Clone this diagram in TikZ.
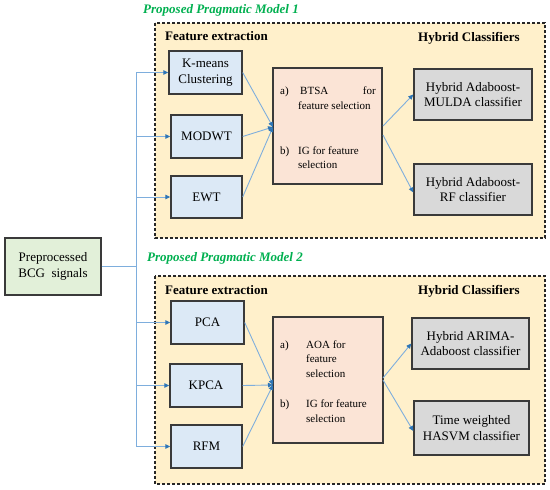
\documentclass[tikz,border=0pt]{standalone}
\usepackage{fontspec}
\setmainfont{Liberation Serif}
\usetikzlibrary{arrows.meta,calc}
\definecolor{panelbg}{HTML}{FFF0CB}
\definecolor{fxblue}{HTML}{DCE9F6}
\definecolor{fspink}{HTML}{FBE4D6}
\definecolor{clgray}{HTML}{D9D9D9}
\definecolor{prgreen}{HTML}{E2F0D9}
\definecolor{ttlgreen}{HTML}{00B050}
\definecolor{connblue}{HTML}{7EAEDD}
\definecolor{tipblue}{HTML}{2E75B6}
\definecolor{edge}{HTML}{3A3A3A}
\tikzset{
  txt/.style={font=\fontsize{13}{15.5}\selectfont},
  boxed/.style={txt, draw=edge, line width=1.4pt, align=center, inner sep=0pt},
  fxbox/.style={boxed, fill=fxblue},
  fsbox/.style={boxed, fill=fspink},
  clbox/.style={boxed, fill=clgray},
  prbox/.style={boxed, fill=prgreen},
  panel/.style={draw=black!85, line width=1.1pt, dash pattern=on 3pt off 2pt, fill=panelbg},
  head/.style={font=\fontsize{13}{15.5}\selectfont\bfseries, anchor=west, inner sep=0pt},
  ttl/.style={font=\fontsize{13}{15.5}\selectfont\bfseries\itshape, text=ttlgreen, anchor=west, inner sep=0pt},
  lbl/.style={font=\fontsize{11}{13.5}\selectfont, anchor=base west, inner sep=0pt},
  wire/.style={draw=connblue, line width=0.9pt},
  arr/.style={wire, -{Triangle[length=5pt,width=4.5pt,color=tipblue]}},
}
\begin{document}
\begin{tikzpicture}[x=1pt,y=-1pt]
\useasboundingbox (0,0) rectangle (550,490);
\fill[white] (0,0) rectangle (550,490);

% panels
\path[panel] (155,23) rectangle (545,238);
\path[panel] (155,276) rectangle (545,484);

% titles and headings
\node[ttl] (t1) at (143,10) {Proposed Pragmatic Model 1};
\node[ttl] (t2) at (147,258) {Proposed Pragmatic Model 2};
\node[head] (h1) at (165,36) {Feature extraction};
\node[head] (h2) at (418,38) {Hybrid Classifiers};
\node[head] (h3) at (165,290) {Feature extraction};
\node[head] (h4) at (418,291) {Hybrid Classifiers};

% input
\node[prbox, minimum width=96pt, minimum height=57pt] (pre) at (53,266.5) {Preprocessed\\BCG~~signals};

% model 1
\node[fxbox, minimum width=73pt, minimum height=43pt] (km) at (205.5,72.5) {K-means\\Clustering};
\node[fxbox, minimum width=71pt, minimum height=43pt] (modwt) at (206.5,136.5) {MODWT};
\node[fxbox, minimum width=71pt, minimum height=42pt] (ewt) at (206.5,197) {EWT};
\node[fsbox, minimum width=109pt, minimum height=116pt] (fs1) at (327.5,126) {};
\node[clbox, minimum width=118pt, minimum height=51pt] (c1) at (473,94.5) {Hybrid Adaboost-\\MULDA classifier};
\node[clbox, minimum width=118pt, minimum height=51pt] (c2) at (473,189.5) {Hybrid Adaboost-\\RF classifier};

\node[lbl] (a1) at (280,94) {a)};
\node[lbl] (a1t) at (300,94) {BTSA};
\node[lbl, anchor=base east] (a1f) at (376,94) {for};
\node[lbl] (a1s) at (298,109) {feature selection};
\node[lbl] (b1) at (280,154) {b)};
\node[lbl] (b1t) at (298,154) {IG for feature};
\node[lbl] (b1s) at (298,168) {selection};

% model 2
\node[fxbox, minimum width=73pt, minimum height=43pt] (pca) at (207.5,322.5) {PCA};
\node[fxbox, minimum width=72pt, minimum height=43pt] (kpca) at (206,385.5) {KPCA};
\node[fxbox, minimum width=71pt, minimum height=43pt] (rfm) at (206.5,446.5) {RFM};
\node[fsbox, minimum width=110pt, minimum height=126pt] (fs2) at (328,380) {};
\node[clbox, minimum width=117pt, minimum height=51pt] (c3) at (470.5,343.5) {Hybrid ARIMA-\\Adaboost classifier};
\node[clbox, minimum width=115pt, minimum height=54pt] (c4) at (471.5,428) {Time weighted\\HASVM classifier};

\node[lbl] (a2) at (280,348) {a)};
\node[lbl] (a2t) at (306,348) {AOA for};
\node[lbl] (a2f) at (306,362.5) {feature};
\node[lbl] (a2s) at (306,377.5) {selection};
\node[lbl] (b2) at (280,407.5) {b)};
\node[lbl] (b2t) at (306,407.5) {IG for feature};
\node[lbl] (b2s) at (306,422.5) {selection};

% trunk
\coordinate (trunk) at (136,266.5);
\coordinate (ttop) at (136,72.5);
\coordinate (tbot) at (136,446.5);
\draw[wire] (pre.east) -- (trunk);
\draw[wire] (ttop) -- (tbot);
\foreach \n in {km,modwt,ewt,pca,kpca,rfm}
  \draw[arr] (\n.west -| trunk) -- (\n.west);

% merge into selection
\coordinate (m1) at (273,127);
\coordinate (m2) at (273,385);
\foreach \n in {km,modwt,ewt} \draw[arr] (\n.east) -- (m1);
\foreach \n in {pca,kpca,rfm} \draw[arr] (\n.east) -- (m2);

% to classifiers
\coordinate (o1) at (383,126);
\coordinate (o2) at (383,135);
\coordinate (o3) at (383,378);
\coordinate (o4) at (383,380);
\draw[arr] (o1) -- (c1.west);
\draw[arr] (o2) -- ($(c2.west)+(0,3)$);
\draw[arr] (o3) -- (c3.west);
\draw[arr] (o4) -- ($(c4.west)+(0,3)$);
\end{tikzpicture}
\end{document}
